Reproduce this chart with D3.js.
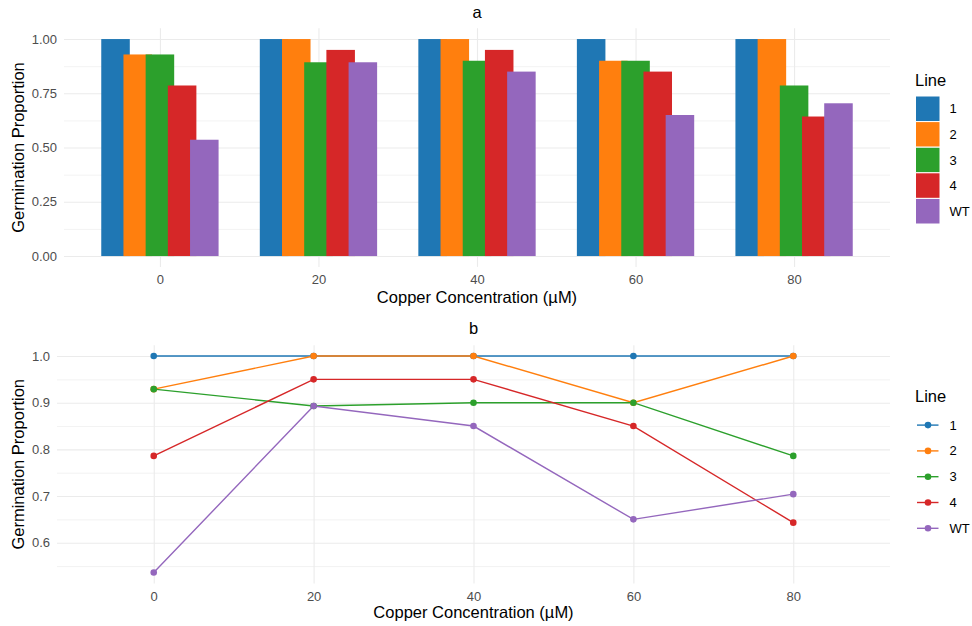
<!DOCTYPE html>
<html>
<head>
<meta charset="utf-8">
<script src="https://cdn.jsdelivr.net/npm/d3@7"></script>
<style>
body { margin: 0; background: #fff; }
svg { display: block; font-family: "Liberation Sans", Arial, sans-serif; }
.tick text { fill: #4d4d4d; font-size: 13px; font-family: "Liberation Sans", Arial, sans-serif; }
</style>
</head>
<body>
<svg id="chart" width="972" height="626"></svg>
<script>
// data
const concentrations = [0, 20, 40, 60, 80];
const lineNames = ["1", "2", "3", "4", "WT"];
const line1 = [1, 1, 1, 1, 1];
const line2 = [0.929, 1, 1, 0.9, 1];
const line3 = [0.929, 0.893, 0.9, 0.9, 0.786];
const line4 = [0.786, 0.95, 0.95, 0.85, 0.643];
const lineWT = [0.536, 0.893, 0.85, 0.65, 0.704];
const seriesValues = [line1, line2, line3, line4, lineWT];

const barTicks = [0, 0.25, 0.5, 0.75, 1];
const barMinor = [0.125, 0.375, 0.625, 0.875];
const lineTicks = [0.6, 0.7, 0.8, 0.9, 1.0];
const lineMinor = [0.55, 0.65, 0.75, 0.85, 0.95];

const colors = ["#1f77b4", "#ff7f0e", "#2ca02c", "#d62728", "#9467bd"];

const svg = d3.select('#chart');
svg.append('rect').attr('width', 972).attr('height', 626).attr('fill', '#fff');

const xDomain = [-12.1, 92.1];
const right = 890;
const barWidth = 3.6, dodgeStep = 2.8;

function panel(left, top, bottom, yDomain, majors, minors, fmt) {
    const g = svg.append('g');
    const x = d3.scaleLinear().domain(xDomain).range([left, right]);
    const y = d3.scaleLinear().domain(yDomain).range([bottom, top]);

    // grid lines
    g.append('g')
        .attr('transform', `translate(${left},0)`)
        .call(d3.axisLeft(y).tickValues(minors).tickSize(-(right - left)).tickFormat(''))
        .call(a => {
            a.select('.domain').remove();
            a.selectAll('line').attr('stroke', '#ebebeb').attr('stroke-width', 0.6);
        });
    g.append('g')
        .attr('transform', `translate(${left},0)`)
        .call(d3.axisLeft(y).tickValues(majors).tickSize(-(right - left)).tickFormat(''))
        .call(a => {
            a.select('.domain').remove();
            a.selectAll('line').attr('stroke', '#ebebeb').attr('stroke-width', 1.1);
        });
    g.append('g')
        .attr('transform', `translate(0,${bottom})`)
        .call(d3.axisBottom(x).tickValues(concentrations).tickSize(-(bottom - top)).tickFormat(''))
        .call(a => {
            a.select('.domain').remove();
            a.selectAll('line').attr('stroke', '#ebebeb').attr('stroke-width', 1.1);
        });

    // tick labels
    g.append('g')
        .attr('transform', `translate(${left},0)`)
        .call(d3.axisLeft(y).tickValues(majors).tickSize(0).tickPadding(7).tickFormat(d3.format(fmt)))
        .call(a => a.select('.domain').remove());
    g.append('g')
        .attr('transform', `translate(0,${bottom})`)
        .call(d3.axisBottom(x).tickValues(concentrations).tickSize(0).tickPadding(8))
        .call(a => a.select('.domain').remove());

    return { g, x, y };
}

function titles(cx, titleY, xTitleY, yMid, title) {
    svg.append('text').attr('x', cx).attr('y', titleY).attr('text-anchor', 'middle')
        .attr('font-size', 16.5).attr('fill', '#000').text(title);
    svg.append('text').attr('x', cx).attr('y', xTitleY).attr('text-anchor', 'middle')
        .attr('font-size', 16.5).attr('fill', '#000').text('Copper Concentration (µM)');
    svg.append('text').attr('transform', `translate(24,${yMid}) rotate(-90)`).attr('text-anchor', 'middle')
        .attr('font-size', 16.5).attr('fill', '#000').text('Germination Proportion');
}

// ---- panel a: bars
const pa = panel(64, 28.2, 266.9, [-0.05, 1.05], barTicks, barMinor, '.2f');
seriesValues.forEach((vals, s) => {
    pa.g.append('g').selectAll('rect')
        .data(vals)
        .join('rect')
            .attr('x', (d, i) => pa.x(concentrations[i] + (s - 2) * dodgeStep - barWidth / 2))
            .attr('width', pa.x(barWidth) - pa.x(0))
            .attr('y', d => pa.y(d))
            .attr('height', d => pa.y(0) - pa.y(d))
            .attr('fill', colors[s]);
});
titles(477, 18, 303, 147.5, 'a');

// legend a
svg.append('text').attr('x', 915).attr('y', 86).attr('font-size', 16.5).text('Line');
const legA = svg.append('g').selectAll('g').data(lineNames).join('g')
    .attr('transform', (d, i) => `translate(915.5,${96 + i * 25.6})`);
legA.append('rect').attr('width', 24.5).attr('height', 25.6)
    .attr('fill', (d, i) => colors[i]).attr('stroke', '#fff').attr('stroke-width', 1);
legA.append('text').attr('x', 34).attr('y', 12.8).attr('dy', '0.35em')
    .attr('font-size', 13).text(d => d);

// ---- panel b: lines
const pb = panel(57, 345.2, 583.4, [0.5128, 1.0232], lineTicks, lineMinor, '.1f');
const lineGen = d3.line()
    .x((d, i) => pb.x(concentrations[i]))
    .y(d => pb.y(d));
seriesValues.forEach((vals, s) => {
    pb.g.append('path')
        .datum(vals)
        .attr('fill', 'none')
        .attr('stroke', colors[s])
        .attr('stroke-width', 1.4)
        .attr('d', lineGen);
});
seriesValues.forEach((vals, s) => {
    pb.g.append('g').selectAll('circle')
        .data(vals)
        .join('circle')
            .attr('cx', (d, i) => pb.x(concentrations[i]))
            .attr('cy', d => pb.y(d))
            .attr('r', 3.3)
            .attr('fill', colors[s]);
});
titles(473.5, 334, 618, 464.3, 'b');

// legend b
svg.append('text').attr('x', 915).attr('y', 402).attr('font-size', 16.5).text('Line');
const legB = svg.append('g').selectAll('g').data(lineNames).join('g')
    .attr('transform', (d, i) => `translate(915.5,${412.2 + i * 25.8})`);
legB.append('line').attr('x1', 1.5).attr('x2', 23).attr('y1', 12.9).attr('y2', 12.9)
    .attr('stroke', (d, i) => colors[i]).attr('stroke-width', 1.4);
legB.append('circle').attr('cx', 12.5).attr('cy', 12.9).attr('r', 3.3)
    .attr('fill', (d, i) => colors[i]);
legB.append('text').attr('x', 34).attr('y', 12.9).attr('dy', '0.35em')
    .attr('font-size', 13).text(d => d);
</script>
</body>
</html>
